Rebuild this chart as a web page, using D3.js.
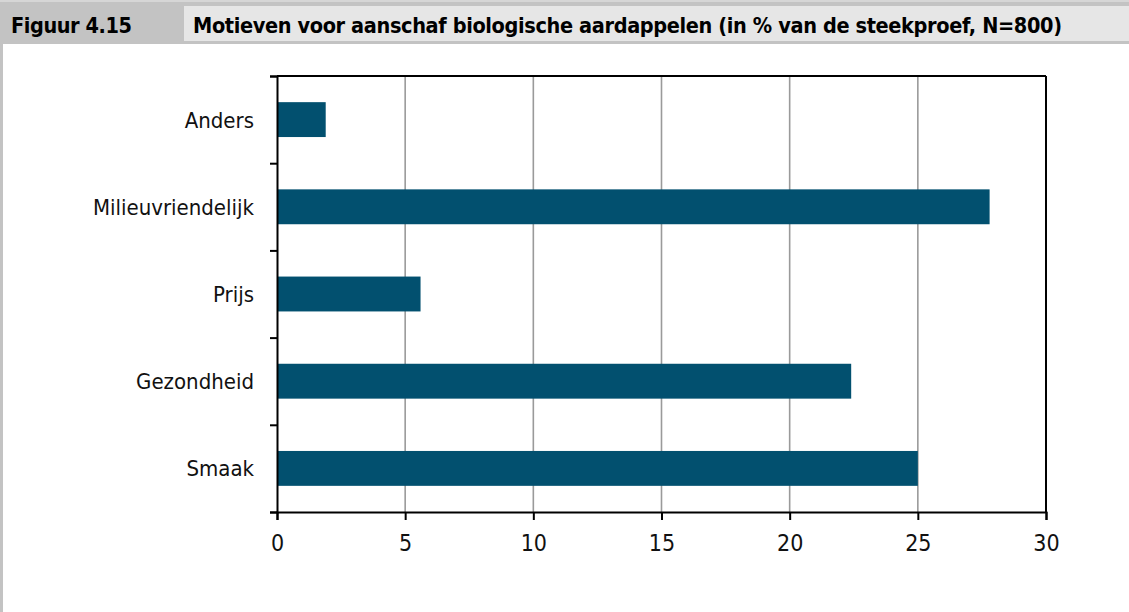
<!DOCTYPE html>
<html>
<head>
<meta charset="utf-8">
<script src="https://cdn.jsdelivr.net/npm/d3@7"></script>
<style>
  body { margin: 0; background: #fff; }
  svg { display: block; }
</style>
</head>
<body>
<div id="chart"></div>
<script>
// data
var figLabel = "Figuur 4.15";
var title = "Motieven voor aanschaf biologische aardappelen (in % van de steekproef, N=800)";
var categories = ["Anders", "Milieuvriendelijk", "Prijs", "Gezondheid", "Smaak"];
var values = [1.9, 27.8, 5.6, 22.4, 25.0];
var xTicks = [0, 5, 10, 15, 20, 25, 30];

var W = 1129, H = 612;
var margin = {top: 76, right: 83, bottom: 100, left: 277},
    width = W - margin.left - margin.right,
    height = H - margin.top - margin.bottom;

var labelFont = "'DejaVu Sans Condensed', 'Liberation Sans Narrow', sans-serif";
var headFont = "'DejaVu Sans Condensed', 'DejaVu Sans', sans-serif";

var svg = d3.select("#chart").append("svg")
  .attr("width", W)
  .attr("height", H);

// header band
svg.append("rect").attr("x", 0).attr("y", 0).attr("width", W).attr("height", 44).attr("fill", "#c3c3c3");
svg.append("rect").attr("x", 0).attr("y", 0).attr("width", W).attr("height", 2).attr("fill", "#d6d6d6");
svg.append("rect").attr("x", 184).attr("y", 6).attr("width", W - 184).attr("height", 35).attr("fill", "#e6e6e6");
// left border
svg.append("rect").attr("x", 0).attr("y", 44).attr("width", 3).attr("height", H - 44).attr("fill", "#c3c3c3");

svg.append("text")
  .attr("x", 11).attr("y", 33)
  .attr("font-family", headFont).attr("font-weight", "bold").attr("font-size", 21.5)
  .attr("textLength", 121).attr("lengthAdjust", "spacing")
  .attr("fill", "#000")
  .text(figLabel);

svg.append("text")
  .attr("x", 193).attr("y", 33)
  .attr("font-family", headFont).attr("font-weight", "bold").attr("font-size", 21.5)
  .attr("textLength", 869).attr("lengthAdjust", "spacing")
  .attr("fill", "#000")
  .text(title);

var g = svg.append("g")
  .attr("transform", "translate(" + margin.left + "," + margin.top + ")");

var x = d3.scaleLinear().domain([0, 30]).range([0, width]);
var y = d3.scaleBand().domain(categories).range([0, height])
  .paddingInner(0.6).paddingOuter(0.3);
// boundaries between categories
var yEdge = d3.scaleLinear().domain([0, categories.length]).range([0, height]);

// gridlines
g.append("g")
  .selectAll("line")
  .data(xTicks.filter(function(d) { return d > 0 && d < 30; }))
  .enter().append("line")
    .attr("x1", function(d) { return x(d); })
    .attr("x2", function(d) { return x(d); })
    .attr("y1", 0).attr("y2", height)
    .attr("stroke", "#9a9a9a")
    .attr("stroke-width", 1.6);

// bars
g.append("g")
  .selectAll("rect")
  .data(values)
  .enter().append("rect")
    .attr("x", 0)
    .attr("y", function(d, i) { return y(categories[i]); })
    .attr("width", function(d) { return x(d); })
    .attr("height", y.bandwidth())
    .attr("fill", "#02506f");

// frame: top and right
g.append("line").attr("x1", 0).attr("x2", width).attr("y1", 0).attr("y2", 0)
  .attr("stroke", "#000").attr("stroke-width", 2);
g.append("line").attr("x1", width).attr("x2", width).attr("y1", 0).attr("y2", height)
  .attr("stroke", "#000").attr("stroke-width", 2);

// x axis
var xAxis = g.append("g")
  .attr("transform", "translate(0," + height + ")")
  .call(d3.axisBottom(x).tickValues(xTicks).tickSize(8).tickPadding(15).tickFormat(d3.format("d")));
xAxis.select(".domain").attr("stroke", "#000").attr("stroke-width", 2);
xAxis.selectAll(".tick line").attr("stroke", "#000").attr("stroke-width", 2);
xAxis.selectAll("text")
  .attr("font-family", labelFont).attr("font-size", 23).attr("fill", "#111");

// y axis (ticks on category boundaries)
var yAxis = g.append("g")
  .call(d3.axisLeft(yEdge).tickValues(d3.range(categories.length + 1)).tickSize(7).tickFormat(""));
yAxis.select(".domain").attr("stroke", "#000").attr("stroke-width", 2);
yAxis.selectAll(".tick line").attr("stroke", "#000").attr("stroke-width", 2);

// category labels
g.append("g")
  .selectAll("text")
  .data(categories)
  .enter().append("text")
    .attr("x", -23)
    .attr("y", function(d) { return y(d) + y.bandwidth() / 2; })
    .attr("dy", "0.36em")
    .attr("text-anchor", "end")
    .attr("font-family", labelFont)
    .attr("font-size", 22)
    .attr("fill", "#111")
    .text(function(d) { return d; });
</script>
</body>
</html>
